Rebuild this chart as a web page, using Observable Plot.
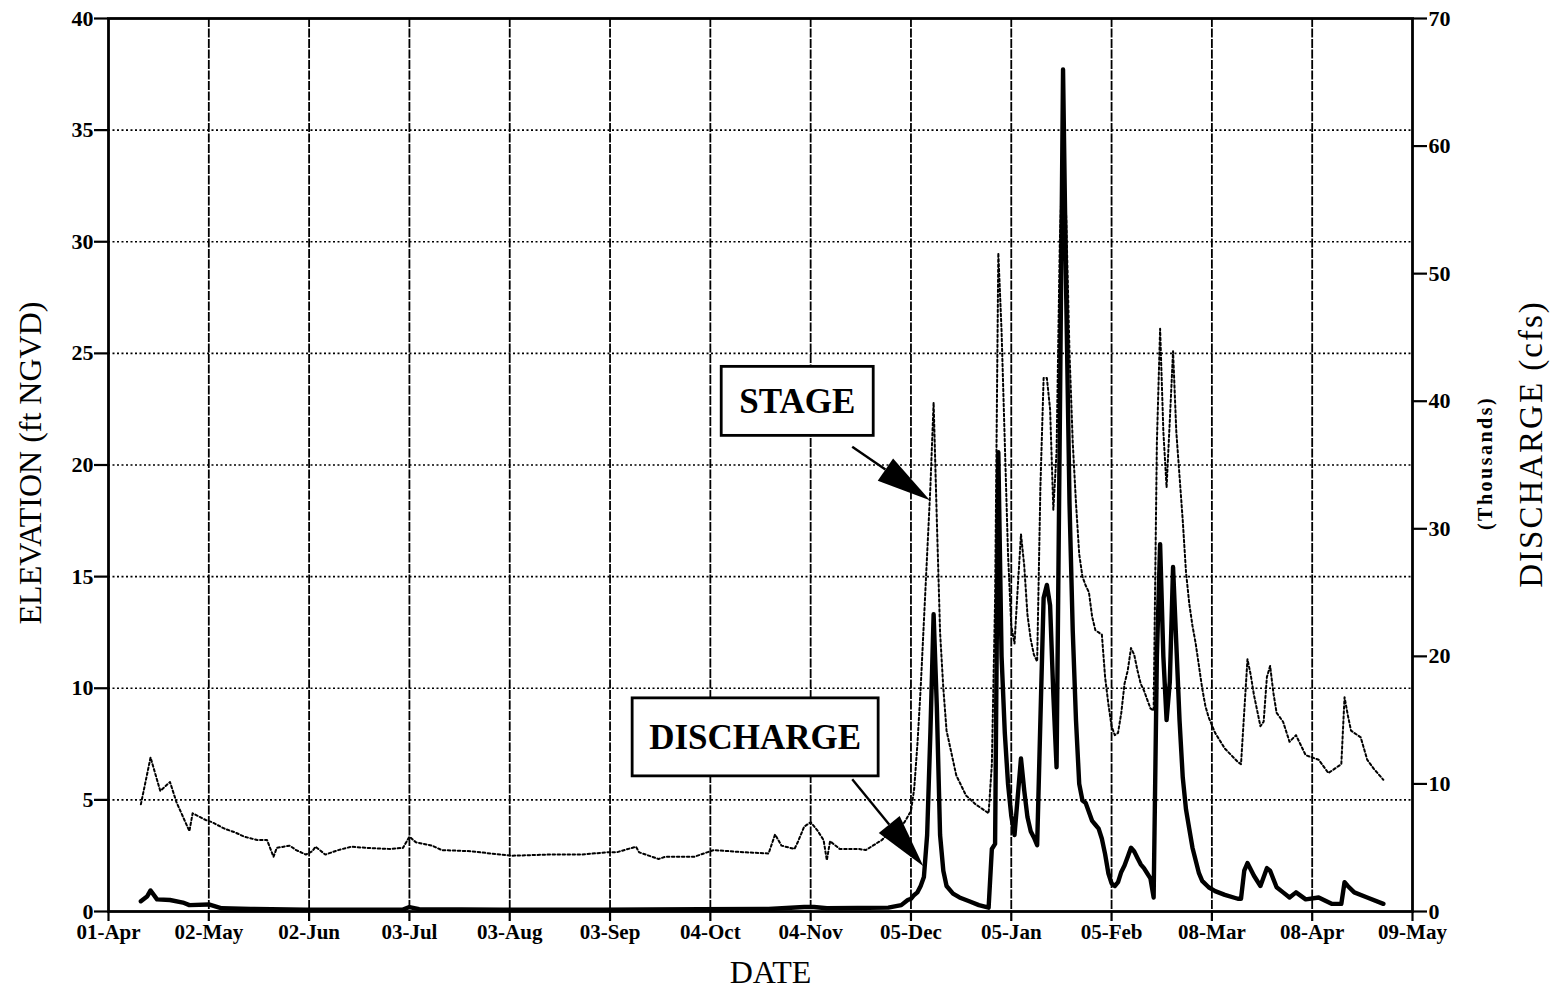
<!DOCTYPE html>
<html>
<head>
<meta charset="utf-8">
<script src="https://cdn.jsdelivr.net/npm/d3@7"></script>
<script src="https://cdn.jsdelivr.net/npm/@observablehq/plot@0.6"></script>
<style>
html, body { margin: 0; padding: 0; background: #fff; }
#chart { width: 1554px; height: 990px; }
</style>
</head>
<body>
<div id="chart"></div>
<script>
// ---- Axis ticks ----
const xTickDates = ["1997-04-01","1997-05-02","1997-06-02","1997-07-03","1997-08-03","1997-09-03","1997-10-04","1997-11-04","1997-12-05","1998-01-05","1998-02-05","1998-03-08","1998-04-08","1998-05-09"];
const xTickLabels = ["01-Apr","02-May","02-Jun","03-Jul","03-Aug","03-Sep","04-Oct","04-Nov","05-Dec","05-Jan","05-Feb","08-Mar","08-Apr","09-May"];
const elevationTicks = [0,5,10,15,20,25,30,35,40];
const dischargeTicks = [0,10,20,30,40,50,60,70];

// ---- STAGE (ft NGVD) ----
const stageDate = [
"1997-04-11","1997-04-14","1997-04-17","1997-04-20","1997-04-22","1997-04-26","1997-04-27","1997-05-01","1997-05-03","1997-05-07",
"1997-05-10","1997-05-13","1997-05-17","1997-05-20","1997-05-22","1997-05-23","1997-05-27","1997-05-29","1997-06-01","1997-06-03",
"1997-06-04","1997-06-07","1997-06-11","1997-06-15","1997-06-20","1997-06-27","1997-07-01","1997-07-03","1997-07-05","1997-07-10",
"1997-07-13","1997-07-22","1997-07-28","1997-08-04","1997-08-15","1997-08-25","1997-09-02","1997-09-05","1997-09-11","1997-09-12",
"1997-09-18","1997-09-20","1997-09-29","1997-10-05","1997-10-10","1997-10-15","1997-10-22","1997-10-24","1997-10-26","1997-10-30",
"1997-10-31","1997-11-02","1997-11-04","1997-11-06","1997-11-08","1997-11-09","1997-11-10","1997-11-13","1997-11-19","1997-11-21",
"1997-11-26","1997-11-28","1997-12-01","1997-12-03","1997-12-05","1997-12-06","1997-12-07","1997-12-08","1997-12-09","1997-12-10",
"1997-12-11","1997-12-12","1997-12-13","1997-12-14","1997-12-15","1997-12-16","1997-12-19","1997-12-22","1997-12-25","1997-12-29",
"1997-12-30","1997-12-31","1998-01-01","1998-01-02","1998-01-03","1998-01-04","1998-01-05","1998-01-06","1998-01-07","1998-01-08",
"1998-01-09","1998-01-10","1998-01-11","1998-01-12","1998-01-13","1998-01-14","1998-01-15","1998-01-16","1998-01-17","1998-01-18",
"1998-01-19","1998-01-20","1998-01-21","1998-01-22","1998-01-23","1998-01-24","1998-01-25","1998-01-26","1998-01-27","1998-01-28",
"1998-01-29","1998-01-30","1998-01-31","1998-02-01","1998-02-02","1998-02-03","1998-02-04","1998-02-05","1998-02-06","1998-02-07",
"1998-02-08","1998-02-09","1998-02-10","1998-02-11","1998-02-12","1998-02-13","1998-02-14","1998-02-15","1998-02-16","1998-02-17",
"1998-02-18","1998-02-19","1998-02-20","1998-02-21","1998-02-22","1998-02-23","1998-02-24","1998-02-25","1998-02-26","1998-02-27",
"1998-02-28","1998-03-01","1998-03-02","1998-03-03","1998-03-04","1998-03-05","1998-03-06","1998-03-07","1998-03-09","1998-03-12",
"1998-03-16","1998-03-17","1998-03-19","1998-03-20","1998-03-21","1998-03-22","1998-03-23","1998-03-24","1998-03-25","1998-03-26",
"1998-03-27","1998-03-28","1998-03-30","1998-04-01","1998-04-03","1998-04-06","1998-04-10","1998-04-13","1998-04-16","1998-04-17",
"1998-04-18","1998-04-19","1998-04-20","1998-04-23","1998-04-25","1998-04-27","1998-04-30"
];
const stageFt = [
4.8,6.9,5.4,5.8,4.9,3.6,4.4,4.1,4.0,3.7,
3.55,3.35,3.2,3.2,2.45,2.85,2.95,2.75,2.55,2.7,
2.9,2.55,2.75,2.9,2.85,2.8,2.85,3.35,3.1,2.95,
2.75,2.7,2.6,2.5,2.55,2.55,2.65,2.65,2.9,2.65,
2.35,2.45,2.45,2.75,2.7,2.65,2.6,3.45,2.95,2.8,
3.1,3.8,4.0,3.65,3.2,2.3,3.15,2.8,2.8,2.75,
3.2,3.5,3.6,4.0,4.5,5.5,7.5,10,13,16,
19,22.8,17.5,12.5,10,8.1,6.1,5.2,4.8,4.4,
6.6,14,29.5,26,21,16,12.8,12.0,14.5,16.9,
15.5,13.3,12.2,11.5,11.2,19,23.9,23.9,22.5,18,
20.6,30,34.5,31,25,21,18.3,16,15,14.6,
14.3,13.2,12.6,12.5,12.4,10.5,9.3,8.3,7.9,8.0,
8.9,10.2,10.8,11.8,11.5,10.8,10.2,9.9,9.5,9.1,
9.0,21,26.1,21.5,19.0,22,25.1,21.5,19.5,17.5,
15.2,13.8,12.8,12.0,11.0,10.0,9.2,8.7,8.0,7.3,
6.7,6.6,11.3,10.6,9.7,9.0,8.3,8.5,10.5,11.0,
9.8,8.9,8.5,7.6,7.9,7.0,6.8,6.2,6.5,6.6,
9.6,8.8,8.1,7.8,6.8,6.4,5.9
];

// ---- DISCHARGE (thousands of cfs) ----
const dischargeDate = [
"1997-04-11","1997-04-13","1997-04-14","1997-04-16","1997-04-20","1997-04-24","1997-04-26","1997-05-02","1997-05-06","1997-05-15",
"1997-06-01","1997-07-01","1997-07-03","1997-07-06","1997-08-01","1997-09-01","1997-10-01","1997-10-22","1997-11-02","1997-11-05",
"1997-11-09","1997-11-28","1997-12-02","1997-12-04","1997-12-05","1997-12-06","1997-12-07","1997-12-08","1997-12-09","1997-12-10",
"1997-12-11","1997-12-12","1997-12-13","1997-12-14","1997-12-15","1997-12-16","1997-12-18","1997-12-20","1997-12-23","1997-12-26",
"1997-12-29","1997-12-30","1997-12-31","1998-01-01","1998-01-02","1998-01-03","1998-01-04","1998-01-05","1998-01-06","1998-01-07",
"1998-01-08","1998-01-09","1998-01-10","1998-01-11","1998-01-12","1998-01-13","1998-01-14","1998-01-15","1998-01-16","1998-01-17",
"1998-01-18","1998-01-19","1998-01-20","1998-01-21","1998-01-22","1998-01-23","1998-01-24","1998-01-25","1998-01-26","1998-01-27",
"1998-01-28","1998-01-29","1998-01-30","1998-01-31","1998-02-01","1998-02-02","1998-02-03","1998-02-04","1998-02-05","1998-02-06",
"1998-02-07","1998-02-08","1998-02-09","1998-02-10","1998-02-11","1998-02-12","1998-02-13","1998-02-14","1998-02-15","1998-02-16",
"1998-02-17","1998-02-18","1998-02-19","1998-02-20","1998-02-21","1998-02-22","1998-02-23","1998-02-24","1998-02-25","1998-02-26",
"1998-02-27","1998-02-28","1998-03-01","1998-03-02","1998-03-03","1998-03-04","1998-03-05","1998-03-07","1998-03-09","1998-03-12",
"1998-03-16","1998-03-17","1998-03-18","1998-03-19","1998-03-21","1998-03-23","1998-03-25","1998-03-26","1998-03-28","1998-03-30",
"1998-04-01","1998-04-03","1998-04-06","1998-04-10","1998-04-14","1998-04-17","1998-04-18","1998-04-19","1998-04-21","1998-04-25",
"1998-04-30"
];
const dischargeKcfs = [
0.8,1.2,1.65,0.95,0.9,0.7,0.5,0.55,0.25,0.2,
0.15,0.15,0.35,0.18,0.15,0.15,0.18,0.2,0.35,0.35,
0.25,0.3,0.5,0.9,1.0,1.3,1.5,2.0,2.7,6,
14,23.3,16,6,3.2,2.0,1.4,1.1,0.8,0.5,
0.3,4.9,5.3,36,20,14,10,7.5,6.0,9,
12.0,9.5,7.4,6.3,5.8,5.2,15,24.6,25.6,24,
17,11.3,38,66,48,32,22,15,10,8.7,
8.5,7.8,7.1,6.8,6.5,5.7,4.5,3.0,2.2,2.0,
2.3,3.1,3.6,4.3,5.0,4.7,4.2,3.7,3.4,3.0,
2.6,1.1,20,28.8,20,15,18,27,21,15,
10.5,8,6.5,5,4,3,2.4,1.9,1.6,1.3,
1.0,1.0,3.2,3.8,2.8,2.0,3.4,3.2,1.9,1.5,
1.1,1.5,0.95,1.1,0.6,0.6,2.3,2.0,1.5,1.1,
0.6
];

// ---- Call-out labels (anchored in data space: date, elevation) ----
const calloutLabel = ["STAGE", "DISCHARGE"];
const calloutBox = [["1997-10-31", 22.85], ["1997-10-18", 7.8]];
const calloutFrom = [["1997-11-17", 20.8], ["1997-11-17", 5.9]];
const calloutTo = [["1997-12-11", 18.4], ["1997-12-09", 2.0]];

// ---- Build tables ----
const parse = d3.utcParse("%Y-%m-%d");
const stage = stageDate.map((d, i) => ({date: parse(d), value: stageFt[i]}));
const discharge = dischargeDate.map((d, i) => ({date: parse(d), value: dischargeKcfs[i]}));
const ticks = xTickDates.map(parse);
const toLeft = v => v * 40 / 70;   // discharge (0-70) onto elevation (0-40) pixel range
const fromLeft = v => v * 70 / 40;

const serif = "'Liberation Serif', 'Times New Roman', serif";

const plot = Plot.plot({
  width: 1554,
  height: 990,
  marginLeft: 108,
  marginRight: 142,
  marginTop: 18,
  marginBottom: 79,
  style: {fontFamily: serif, fontSize: "21px", fontWeight: "bold", background: "#fff", color: "#000", overflow: "visible"},
  x: {type: "utc", domain: [ticks[0], ticks[ticks.length - 1]]},
  y: {domain: [0, 40]},
  marks: [
    Plot.ruleY(elevationTicks.filter(v => v > 0 && v < 40), {stroke: "#000", strokeWidth: 1.7, strokeDasharray: "2,2.5"}),
    Plot.ruleX(ticks.slice(1, -1), {stroke: "#000", strokeWidth: 1.8, strokeDasharray: "9,1.5"}),
    Plot.line(stage, {x: "date", y: "value", stroke: "#000", strokeWidth: 2, strokeDasharray: "2.5,2.5"}),
    Plot.line(discharge, {x: "date", y: d => toLeft(d.value), stroke: "#000", strokeWidth: 4.4, strokeLinejoin: "round"}),
    Plot.frame({stroke: "#000", strokeWidth: 2.8}),
    Plot.axisY(elevationTicks, {anchor: "left", tickSize: 14, tickPadding: 1, label: null, fontSize: 22, strokeWidth: 2.2, fill: "#000"}),
    Plot.axisY(dischargeTicks.map(toLeft), {anchor: "right", tickSize: 14, tickPadding: 2, label: null, fontSize: 22, strokeWidth: 2.2, fill: "#000",
      tickFormat: d => String(Math.round(fromLeft(d)))}),
    Plot.axisX(ticks, {anchor: "bottom", tickSize: 10, tickPadding: 3, label: null, fontSize: 21, strokeWidth: 2.2, fill: "#000",
      tickFormat: d => xTickLabels[ticks.findIndex(t => +t === +d)]}),
    Plot.text(["ELEVATION (ft NGVD)"], {text: d => d, frameAnchor: "left", dx: -78, dy: -2, rotate: -90, fill: "#000",
      textAnchor: "middle", lineAnchor: "middle", fontSize: 32, fontWeight: "normal"}),
    Plot.text(["DISCHARGE (cfs)"], {text: d => d, frameAnchor: "right", dx: 119, dy: -21, rotate: -90, fill: "#000",
      textAnchor: "middle", lineAnchor: "middle", fontSize: 33, fontWeight: "normal"}),
    Plot.text(["(Thousands)"], {text: d => d, frameAnchor: "right", dx: 73, dy: -2, rotate: -90, fill: "#000",
      textAnchor: "middle", lineAnchor: "middle", fontSize: 20, fontWeight: "bold"}),
    Plot.text(["DATE"], {text: d => d, frameAnchor: "bottom", dx: 10, dy: 61, fill: "#000",
      textAnchor: "middle", lineAnchor: "middle", fontSize: 32, fontWeight: "normal"})
  ]
});

// letter-spacing for stretched titles
d3.select(plot).selectAll("text").each(function() {
  const t = this.textContent;
  if (t === "DISCHARGE (cfs)") this.setAttribute("letter-spacing", "2");
  if (t === "(Thousands)") this.setAttribute("letter-spacing", "2.5");
});

// ---- Call-out boxes with filled arrowheads ----
const sx = plot.scale("x"), sy = plot.scale("y");
const svg = d3.select(plot);
const g = svg.append("g").attr("font-family", serif);
const boxSize = [[152, 69], [246, 78]];
calloutLabel.forEach((label, i) => {
  const cx = sx.apply(parse(calloutBox[i][0])), cy = sy.apply(calloutBox[i][1]);
  const [w, h] = boxSize[i];
  g.append("rect").attr("x", cx - w / 2).attr("y", cy - h / 2).attr("width", w).attr("height", h)
    .attr("fill", "#fff").attr("stroke", "#000").attr("stroke-width", 2.8);
  g.append("text").attr("x", cx).attr("y", cy).attr("dy", "0.35em").attr("text-anchor", "middle")
    .attr("font-size", 35).attr("font-weight", "bold").attr("fill", "#000").text(label);
  const x0 = sx.apply(parse(calloutFrom[i][0])), y0 = sy.apply(calloutFrom[i][1]);
  const x1 = sx.apply(parse(calloutTo[i][0])), y1 = sy.apply(calloutTo[i][1]);
  const dx = x1 - x0, dy = y1 - y0, L = Math.hypot(dx, dy), ux = dx / L, uy = dy / L;
  const headLen = 54, headW = 13.5;
  const bx = x1 - ux * headLen, by = y1 - uy * headLen;
  g.append("line").attr("x1", x0).attr("y1", y0).attr("x2", bx).attr("y2", by)
    .attr("stroke", "#000").attr("stroke-width", 2.4);
  g.append("polygon").attr("points", [
    [x1, y1], [bx - uy * headW, by + ux * headW], [bx + uy * headW, by - ux * headW]
  ].map(p => p.join(",")).join(" ")).attr("fill", "#000");
});

document.getElementById("chart").appendChild(plot);
</script>
</body>
</html>
